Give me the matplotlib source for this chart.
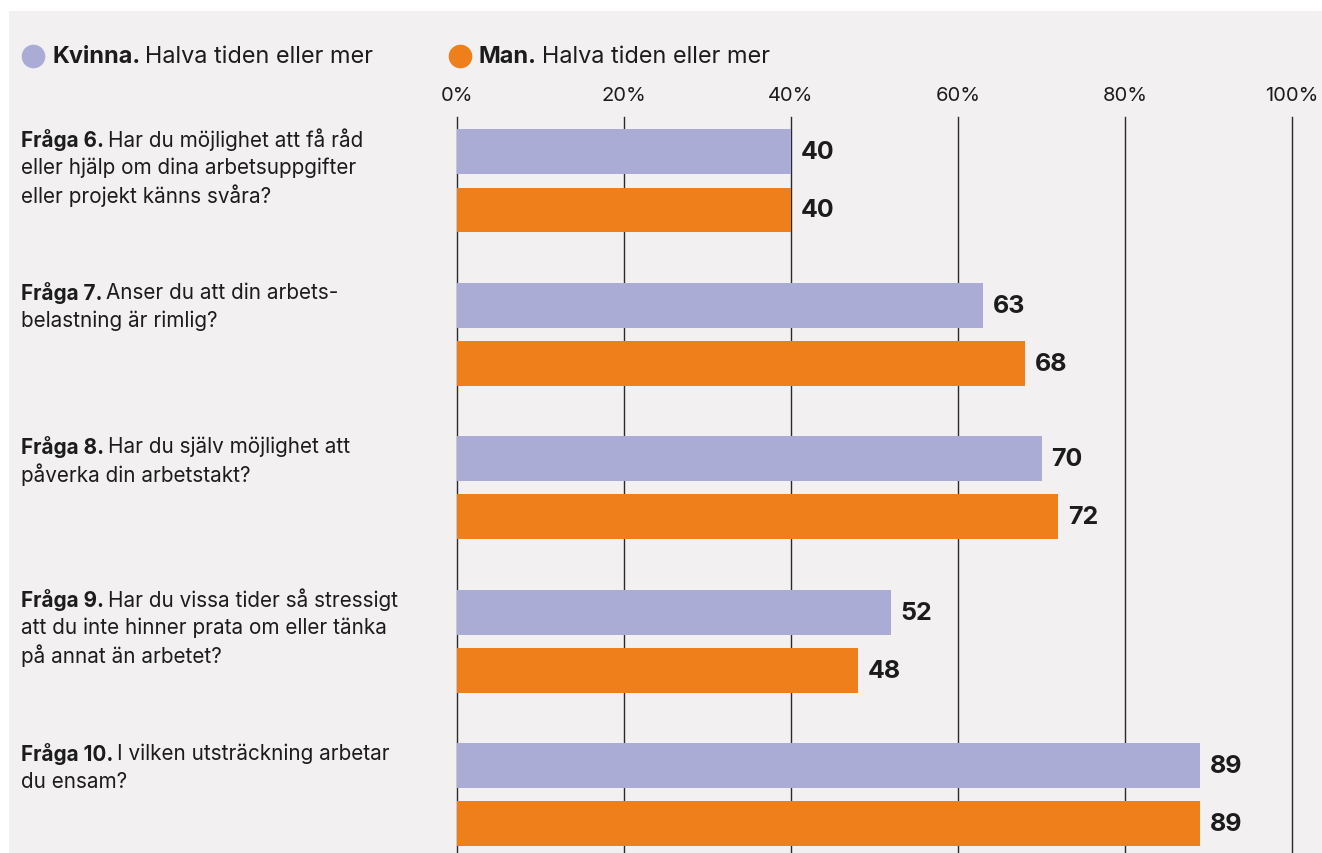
import matplotlib
matplotlib.use("Agg")
import matplotlib.pyplot as plt
import matplotlib.transforms as mtransforms
from matplotlib.lines import Line2D
from matplotlib.patches import Rectangle
import numpy as np

plt.rcParams['font.family'] = ['Inter', 'DejaVu Sans']

# data
bold_parts = ['Fråga 6.', 'Fråga 7.', 'Fråga 8.', 'Fråga 9.', 'Fråga 10.']
question_lines = [
    ['Har du möjlighet att få råd', 'eller hjälp om dina arbetsuppgifter', 'eller projekt känns svåra?'],
    ['Anser du att din arbets-', 'belastning är rimlig?'],
    ['Har du själv möjlighet att', 'påverka din arbetstakt?'],
    ['Har du vissa tider så stressigt', 'att du inte hinner prata om eller tänka', 'på annat än arbetet?'],
    ['I vilken utsträckning arbetar', 'du ensam?'],
]
kvinna = [40, 63, 70, 52, 89]
man = [40, 68, 72, 48, 89]
xticks = [0, 20, 40, 60, 80, 100]

BG = '#f2f0f1'
PURPLE = '#aaacd6'
ORANGE = '#ef7f1a'
TXT = '#1c1c1c'

W, H = 1322, 854
fig = plt.figure(figsize=(W / 100, H / 100), dpi=100)
fig.patch.set_facecolor('white')
fig.add_artist(Rectangle((9 / W, 0), 1, 1 - 12 / H, transform=fig.transFigure,
                         facecolor=BG, edgecolor='none', zorder=-10))

ax = fig.add_axes([457 / W, 0, (1292 - 457) / W, 1 - 118 / H])
ax.set_facecolor('none')
n = len(kvinna)
ypos = np.arange(n)
bh = 0.293
off = 0.19
ax.barh(ypos - off, kvinna, height=bh, color=PURPLE, zorder=2)
ax.barh(ypos + off, man, height=bh, color=ORANGE, zorder=2)
for y, v in zip(ypos - off, kvinna):
    ax.text(v + 1.15, y, str(v), va='center', ha='left', fontsize=18,
            fontweight='bold', color=TXT)
for y, v in zip(ypos + off, man):
    ax.text(v + 1.15, y, str(v), va='center', ha='left', fontsize=18,
            fontweight='bold', color=TXT)

ax.set_xlim(0, 100)
ax.set_ylim(n - 1 + 0.38, -0.416)
for x in xticks:
    ax.axvline(x, color='#2a2a2a', lw=1.0, zorder=1, clip_on=False)
ax.xaxis.tick_top()
ax.set_xticks(xticks)
ax.set_xticklabels([f'{x}%' for x in xticks], fontsize=14.5, color=TXT)
ax.tick_params(axis='x', length=0, pad=9)
ax.set_yticks([])
for s in ax.spines.values():
    s.set_visible(False)

# question labels
fig.canvas.draw()
r = fig.canvas.get_renderer()
trans = mtransforms.blended_transform_factory(fig.transFigure, ax.transData)
line_step = 28 / 153.4
qfs = 14.9
for i, (b, lines) in enumerate(zip(bold_parts, question_lines)):
    y0 = i - off - bh / 2 + 0.062
    t = fig.text(21 / W, y0, b, transform=trans, fontsize=qfs,
                 fontweight='bold', va='center', ha='left', color=TXT)
    bb = t.get_window_extent(renderer=r)
    fig.text((bb.x1 + 4) / W, y0, lines[0], transform=trans, fontsize=qfs,
             va='center', ha='left', color=TXT)
    for k, ln in enumerate(lines[1:], start=1):
        fig.text(21 / W, y0 + k * line_step, ln, transform=trans, fontsize=qfs,
                 va='center', ha='left', color=TXT)

# legend
ly = 1 - 57 / H
for cx, col, b, rest in [(33, PURPLE, 'Kvinna.', 'Halva tiden eller mer'),
                         (460, ORANGE, 'Man.', 'Halva tiden eller mer')]:
    fig.add_artist(Line2D([cx / W], [ly], marker='o', ms=16, color=col,
                          transform=fig.transFigure, linestyle='none'))
    t = fig.text((cx + 19) / W, ly, b, fontsize=16.9, fontweight='bold',
                 va='center', ha='left', color=TXT)
    bb = t.get_window_extent(renderer=r)
    fig.text((bb.x1 + 5) / W, ly, rest, fontsize=16.9, va='center', ha='left', color=TXT)

fig.savefig('out.png', dpi=100, facecolor=fig.get_facecolor())
